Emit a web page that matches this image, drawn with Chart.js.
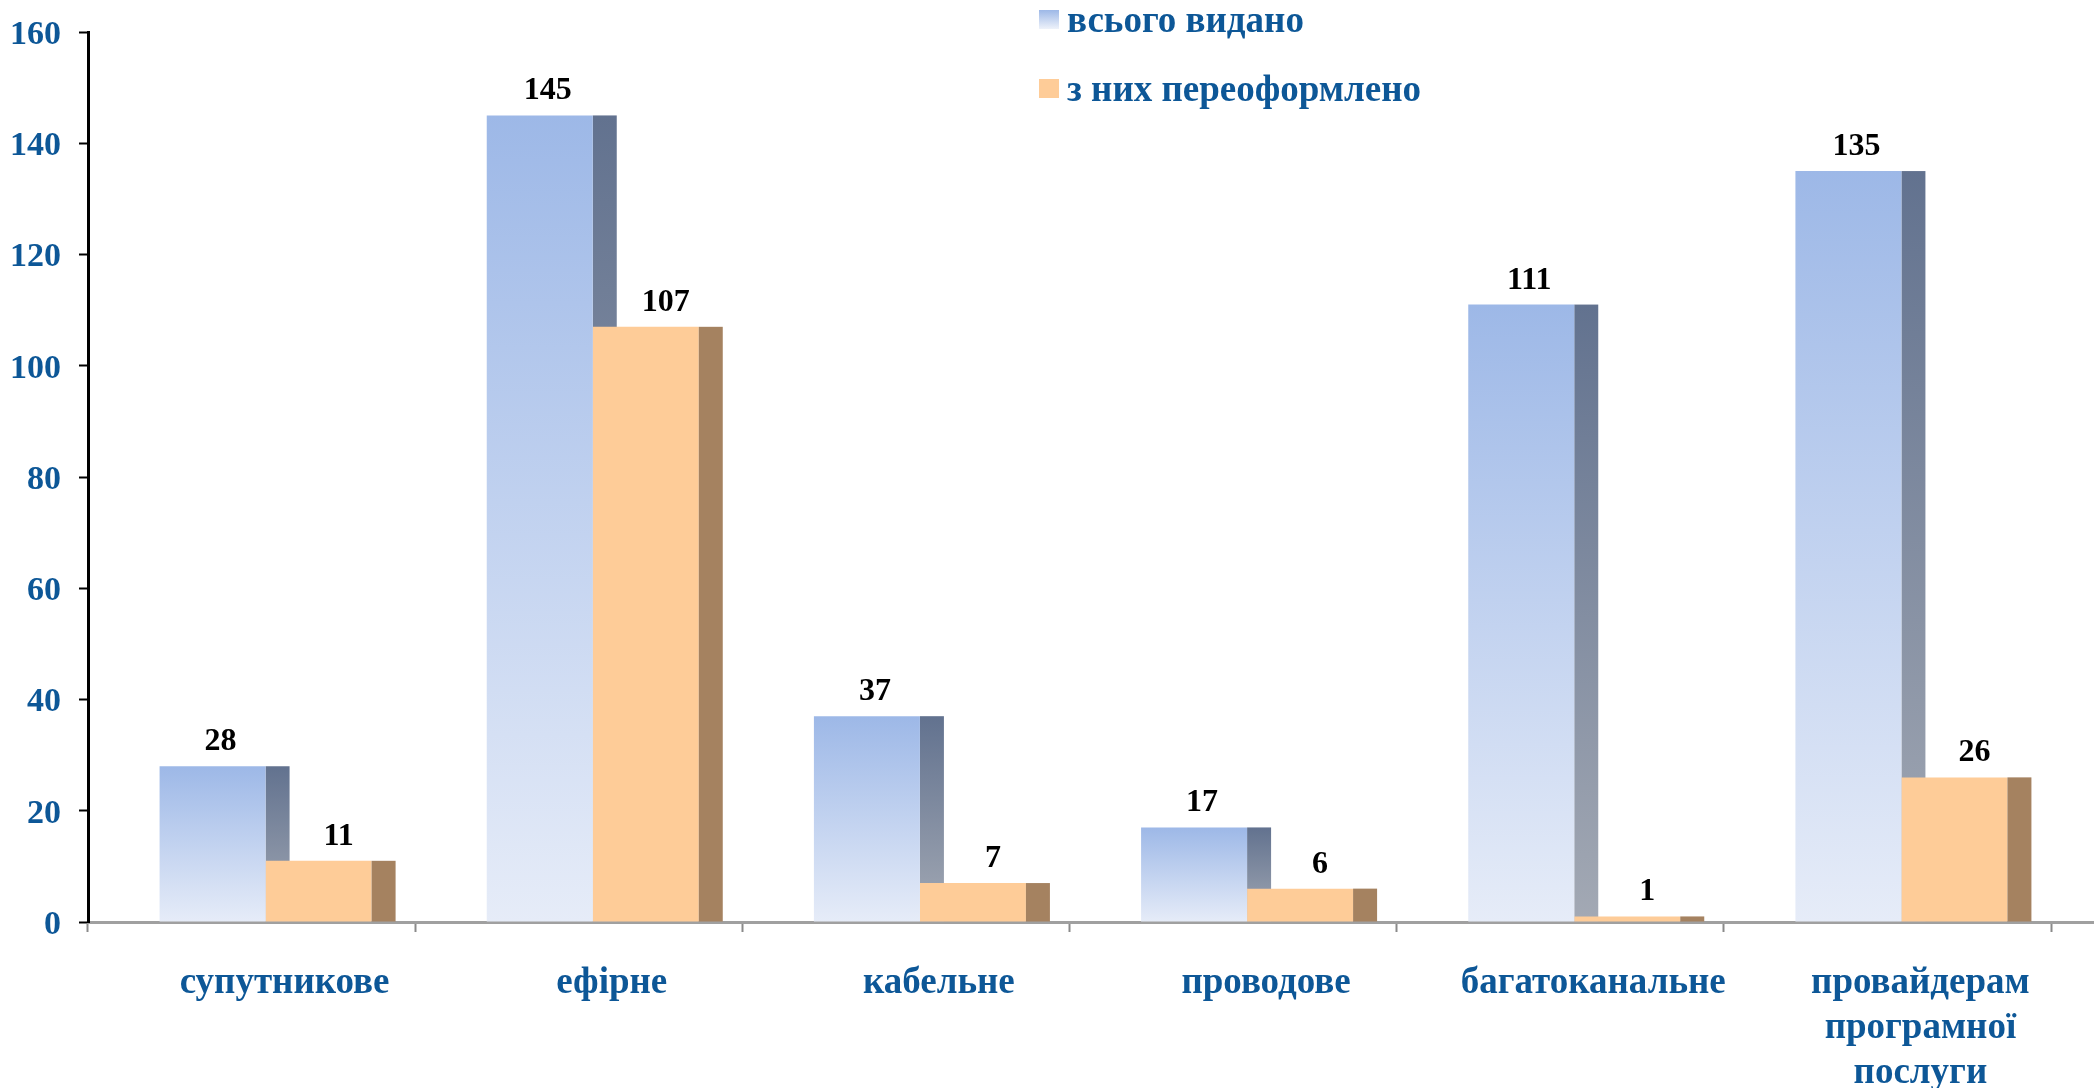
<!DOCTYPE html>
<html lang="uk">
<head>
  <meta charset="UTF-8" />
  <title>Ліцензії</title>
  <script src="https://cdn.jsdelivr.net/npm/chart.js"></script>
  <style>
    html, body {
      margin: 0;
      padding: 0;
      background: #ffffff;
    }
    .chart-box {
      width: 2094px;
      height: 1088px;
      position: relative;
    }
  </style>
</head>
<body>

<div class="chart-box">
  <canvas id="licenseChart"></canvas>
</div>

<script>
  // data
  const categories = ['супутникове', 'ефірне', 'кабельне', 'проводове', 'багатоканальне',
    ['провайдерам', 'програмної', 'послуги']];
  const issuedTotal = [28, 145, 37, 17, 111, 135];
  const reissued = [11, 107, 7, 6, 1, 26];
  const seriesNames = ['всього видано', 'з них переоформлено'];
  const yMin = 0;
  const yMax = 160;
  const yStep = 20;

  const BLUE_TXT = '#0d5797';
  const FONT = '"Liberation Serif", "Times New Roman", serif';
  const DEPTH = 24;  // width of the dark side face of each bar
  const SHIFT = 14;  // pseudo-3d shift of the bar block inside its category
  const LABEL_DX = [8, 20]; // value label offset from bar centre, per series

  function barGradient(c, top, bottom) {
    const chart = c.chart;
    const area = chart.chartArea;
    if (!area || !c.parsed) return top;
    const y0 = chart.scales.y.getPixelForValue(c.parsed.y);
    const g = chart.ctx.createLinearGradient(0, y0, 0, area.bottom);
    g.addColorStop(0, top);
    g.addColorStop(1, bottom);
    return g;
  }

  function drawSides(chart, idx, topColor, bottomColor) {
    const ctx = chart.ctx;
    chart.getDatasetMeta(idx).data.forEach(bar => {
      const p = bar.getProps(['x', 'y', 'base', 'width'], true);
      const left = p.x + p.width / 2;
      let fill = topColor;
      if (bottomColor) {
        fill = ctx.createLinearGradient(0, p.y, 0, p.base);
        fill.addColorStop(0, topColor);
        fill.addColorStop(1, bottomColor);
      }
      ctx.fillStyle = fill;
      ctx.fillRect(left, p.y, DEPTH, p.base - p.y);
    });
  }

  const bars3d = {
    id: 'bars3d',
    beforeDatasetsDraw(chart) {
      const ctx = chart.ctx;
      ctx.save();
      ctx.translate(SHIFT, 0);
      // blue side first, so the orange front covers it
      drawSides(chart, 0, '#62728f', '#a3a9b4');
    },
    afterDatasetsDraw(chart) {
      const ctx = chart.ctx;
      drawSides(chart, 1, '#a58260');

      ctx.font = 'bold 32px ' + FONT;
      ctx.fillStyle = '#000';
      ctx.textAlign = 'center';
      ctx.textBaseline = 'alphabetic';
      chart.data.datasets.forEach((ds, i) => {
        chart.getDatasetMeta(i).data.forEach((bar, j) => {
          const p = bar.getProps(['x', 'y'], true);
          ctx.fillText(ds.data[j], p.x + LABEL_DX[i], p.y - 16);
        });
      });
      ctx.restore();
    },
    afterDraw(chart) {
      const ctx = chart.ctx;
      const area = chart.chartArea;
      // x axis line runs on to the right edge
      ctx.save();
      ctx.strokeStyle = '#a0a0a0';
      ctx.lineWidth = 3;
      ctx.beginPath();
      ctx.moveTo(area.right - 2, area.bottom + 0.5);
      ctx.lineTo(chart.width, area.bottom + 0.5);
      ctx.stroke();

      // legend, stacked in two rows
      const lx = 1039;
      const rows = [10, 79];
      ctx.font = 'bold 37px ' + FONT;
      ctx.textAlign = 'left';
      ctx.textBaseline = 'alphabetic';
      seriesNames.forEach((name, i) => {
        const y = rows[i];
        if (i === 0) {
          const g = ctx.createLinearGradient(0, y, 0, y + 19);
          g.addColorStop(0, '#9db8e7');
          g.addColorStop(1, '#eef2fa');
          ctx.fillStyle = g;
        } else {
          ctx.fillStyle = '#fecc98';
        }
        ctx.fillRect(lx, y, 20, 19);
        ctx.fillStyle = BLUE_TXT;
        ctx.fillText(name, lx + 28, y + 22);
      });
      ctx.restore();
    }
  };

  const chart = new Chart(document.getElementById('licenseChart'), {
    type: 'bar',
    data: {
      labels: categories,
      datasets: [
        {
          label: seriesNames[0],
          data: issuedTotal,
          backgroundColor: c => barGradient(c, '#9db8e7', '#e6ecf8'),
          categoryPercentage: 0.648,
          barPercentage: 1.0
        },
        {
          label: seriesNames[1],
          data: reissued,
          backgroundColor: '#fecc98',
          categoryPercentage: 0.648,
          barPercentage: 1.0
        }
      ]
    },
    options: {
      responsive: true,
      maintainAspectRatio: false,
      animation: false,
      devicePixelRatio: 1,
      layout: {
        padding: { top: 32, right: 43, bottom: 0, left: 0 }
      },
      plugins: {
        legend: { display: false },
        tooltip: { enabled: false }
      },
      scales: {
        x: {
          offset: true,
          grid: {
            offset: true,
            drawOnChartArea: false,
            drawTicks: true,
            tickLength: 10,
            tickWidth: 2,
            tickColor: '#8a8a8a'
          },
          border: { color: '#a0a0a0', width: 3 },
          ticks: {
            color: BLUE_TXT,
            font: { family: FONT, size: 37, weight: 'bold', lineHeight: 1.22 },
            padding: 29,
            labelOffset: 33,
            maxRotation: 0,
            autoSkip: false
          },
          afterFit(scale) { scale.height = 166; }
        },
        y: {
          min: yMin,
          max: yMax,
          grid: {
            drawOnChartArea: false,
            drawTicks: true,
            tickLength: 9,
            tickWidth: 2,
            tickColor: '#000'
          },
          border: { color: '#000', width: 3 },
          ticks: {
            stepSize: yStep,
            color: BLUE_TXT,
            font: { family: FONT, size: 34, weight: 'bold', lineHeight: 0.8 },
            padding: 18,
            labelOffset: 3
          },
          afterFit(scale) { scale.width = 88; }
        }
      }
    },
    plugins: [bars3d]
  });
</script>

</body>
</html>
